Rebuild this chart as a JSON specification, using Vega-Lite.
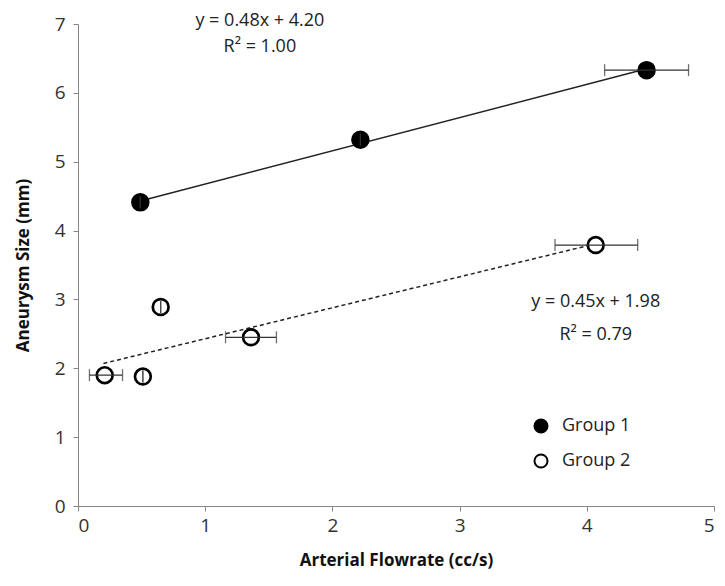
{
  "$schema": "https://vega.github.io/schema/vega-lite/v6.json",
  "width": 636,
  "height": 482,
  "autosize": "none",
  "padding": {"left": 78, "top": 24, "right": 11, "bottom": 80},
  "background": "white",
  "config": {
    "view": {"stroke": null},
    "font": "Open Sans",
    "axis": {
      "grid": false,
      "domainColor": "#868686",
      "tickColor": "#868686",
      "tickSize": 5,
      "labelFont": "Open Sans",
      "labelFontSize": 19,
      "labelColor": "#333333",
      "titleFont": "Open Sans",
      "titleFontSize": 17,
      "titleFontWeight": "bold",
      "titleColor": "#111111"
    }
  },
  "datasets": {
    "pts": [
      {"group": "Group 1", "x": 0.49, "y": 4.41, "xlo": 0.49, "xhi": 0.49},
      {"group": "Group 1", "x": 2.22, "y": 5.32, "xlo": 2.22, "xhi": 2.22},
      {"group": "Group 1", "x": 4.47, "y": 6.33, "xlo": 4.14, "xhi": 4.8},
      {"group": "Group 2", "x": 0.21, "y": 1.9, "xlo": 0.09, "xhi": 0.35},
      {"group": "Group 2", "x": 0.51, "y": 1.88, "xlo": 0.51, "xhi": 0.51},
      {"group": "Group 2", "x": 0.65, "y": 2.89, "xlo": 0.65, "xhi": 0.65},
      {"group": "Group 2", "x": 1.36, "y": 2.45, "xlo": 1.16, "xhi": 1.56},
      {"group": "Group 2", "x": 4.07, "y": 3.79, "xlo": 3.75, "xhi": 4.4}
    ],
    "trend": [
      {"group": "Group 1", "x": 0.49, "y": 4.43},
      {"group": "Group 1", "x": 4.47, "y": 6.35},
      {"group": "Group 2", "x": 0.2, "y": 2.07},
      {"group": "Group 2", "x": 4.05, "y": 3.8}
    ],
    "notes": [
      {"x": 1.43, "y": 7.05, "text": "y = 0.48x + 4.20"},
      {"x": 1.43, "y": 6.66, "text": "R² = 1.00"},
      {"x": 4.07, "y": 2.96, "text": "y = 0.45x + 1.98"},
      {"x": 4.07, "y": 2.48, "text": "R² = 0.79"}
    ]
  },
  "layer": [
    {
      "data": {"name": "trend"},
      "transform": [{"filter": "datum.group === 'Group 1'"}],
      "mark": {"type": "line", "color": "#222222", "strokeWidth": 1.5},
      "encoding": {
        "x": {"field": "x", "type": "quantitative", "scale": {"domain": [0, 5]}, "axis": {"values": [0, 1, 2, 3, 4, 5], "format": "d", "title": "Arterial Flowrate (cc/s)", "labelPadding": 5, "titlePadding": 17}},
        "y": {"field": "y", "type": "quantitative", "scale": {"domain": [0, 7]}, "axis": {"values": [0, 1, 2, 3, 4, 5, 6, 7], "format": "d", "title": "Aneurysm Size (mm)", "labelPadding": 8, "titlePadding": 22}}
      }
    },
    {
      "data": {"name": "trend"},
      "transform": [{"filter": "datum.group === 'Group 2'"}],
      "mark": {"type": "line", "color": "#222222", "strokeWidth": 1.5, "strokeDash": [4, 3]},
      "encoding": {
        "x": {"field": "x", "type": "quantitative"},
        "y": {"field": "y", "type": "quantitative"}
      }
    },
    {
      "data": {"name": "pts"},
      "mark": {"type": "circle", "size": 250, "stroke": "black", "strokeWidth": 2.7, "opacity": 1},
      "encoding": {
        "x": {"field": "x", "type": "quantitative"},
        "y": {"field": "y", "type": "quantitative"},
        "fill": {
          "field": "group", "type": "nominal",
          "scale": {"domain": ["Group 1", "Group 2"], "range": ["black", "white"]},
          "legend": {
            "title": null, "orient": "none", "legendX": 454, "legendY": 393,
            "labelFontSize": 18, "labelFont": "Open Sans", "labelColor": "#222222",
            "symbolSize": 170, "symbolStrokeColor": "black", "symbolStrokeWidth": 2,
            "symbolType": "circle", "rowPadding": 13, "labelOffset": 12
          }
        }
      }
    },
    {
      "data": {"name": "pts"},
      "mark": {"type": "rule", "color": "#333333", "strokeWidth": 1.3},
      "encoding": {
        "x": {"field": "xlo", "type": "quantitative"},
        "x2": {"field": "xhi"},
        "y": {"field": "y", "type": "quantitative"}
      }
    },
    {
      "data": {"name": "pts"},
      "mark": {"type": "tick", "orient": "vertical", "color": "#333333", "thickness": 1.3, "size": 12},
      "encoding": {
        "x": {"field": "xlo", "type": "quantitative"},
        "y": {"field": "y", "type": "quantitative"}
      }
    },
    {
      "data": {"name": "pts"},
      "mark": {"type": "tick", "orient": "vertical", "color": "#333333", "thickness": 1.3, "size": 12},
      "encoding": {
        "x": {"field": "xhi", "type": "quantitative"},
        "y": {"field": "y", "type": "quantitative"}
      }
    },
    {
      "data": {"name": "notes"},
      "mark": {"type": "text", "font": "Open Sans", "fontSize": 18, "color": "#222222", "align": "center", "baseline": "middle"},
      "encoding": {
        "x": {"field": "x", "type": "quantitative"},
        "y": {"field": "y", "type": "quantitative"},
        "text": {"field": "text"}
      }
    }
  ]
}
